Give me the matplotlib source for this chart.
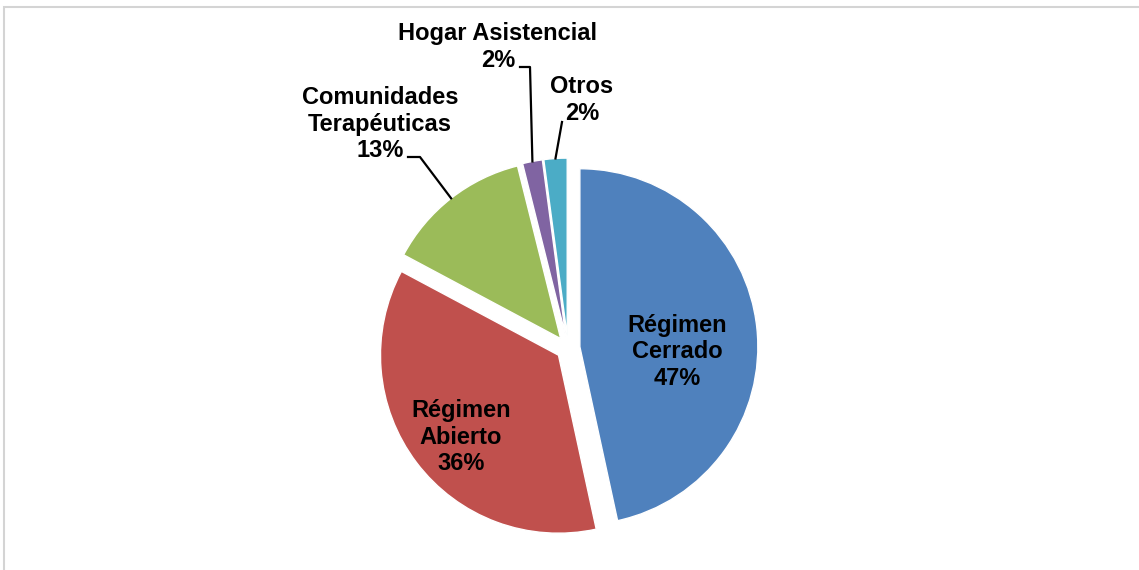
import numpy as np
import matplotlib
matplotlib.use("Agg")
from matplotlib import pyplot as plt
from matplotlib.patches import Rectangle

# datos del grafico
categorias = ['Régimen\nCerrado', 'Régimen\nAbierto', 'Comunidades\nTerapéuticas', 'Hogar Asistencial', 'Otros']
porcentajes = [46.6, 36.2, 13.3, 1.8, 2.1]
etiquetas_pct = ['47%', '36%', '13%', '2%', '2%']
colores = ['#4F81BD', '#C0504D', '#9BBB59', '#8064A2', '#4BACC6']

plt.rcParams['font.family'] = ['Liberation Sans', 'DejaVu Sans']

W, H = 1139, 570
CX, CY, R = 568, 348, 178  # centro y radio en pixeles


def px(x, y):
    # pixel -> coordenadas de datos (radio = 1)
    return (x - CX) / R, (CY - y) / R


fig = plt.figure(figsize=(W / 100, H / 100), dpi=100)
ax = fig.add_axes([0, 0, 1, 1])

# marco del area del grafico
fig.patches.append(Rectangle((4 / W, -0.1), 1.2, 1 - 7 / H + 0.1, transform=fig.transFigure,
                             fill=False, edgecolor='#D4D4D4', linewidth=1.5))

wedges, _ = ax.pie(porcentajes, colors=colores, startangle=90, counterclock=False,
                   explode=[0.067] * 5, radius=1,
                   wedgeprops=dict(edgecolor='white', linewidth=1))
ax.set_aspect('auto')
ax.set_xlim(-CX / R, (W - CX) / R)
ax.set_ylim(-(H - CY) / R, CY / R)
ax.axis('off')

fs = 17
ls = 1.22
# etiquetas dentro
for i, pos in [(0, (677, 352)), (1, (461, 437))]:
    x, y = px(*pos)
    ax.text(x, y, categorias[i] + '\n' + etiquetas_pct[i], ha='center', va='center',
            fontsize=fs, fontweight='bold', linespacing=ls)

# etiquetas fuera con lineas guia
fuera = [
    (2, (380, 124), [(408, 157), (420, 157)]),
    (3, (498, 47), [(520, 67), (530, 67)]),
    (4, (582, 100), [(562, 122)]),
]
for i, pos, guia in fuera:
    x, y = px(*pos)
    ax.text(x, y, categorias[i] + '\n' + etiquetas_pct[i], ha='center', va='center',
            fontsize=fs, fontweight='bold', linespacing=ls)
    w = wedges[i]
    mid = np.deg2rad((w.theta1 + w.theta2) / 2)
    ax_, ay_ = w.center[0] + np.cos(mid) * w.r, w.center[1] + np.sin(mid) * w.r
    pts = [px(*p) for p in guia] + [(ax_, ay_)]
    ax.plot([p[0] for p in pts], [p[1] for p in pts], color='black', linewidth=1.6)

fig.savefig('out.png', dpi=100, facecolor='white')
